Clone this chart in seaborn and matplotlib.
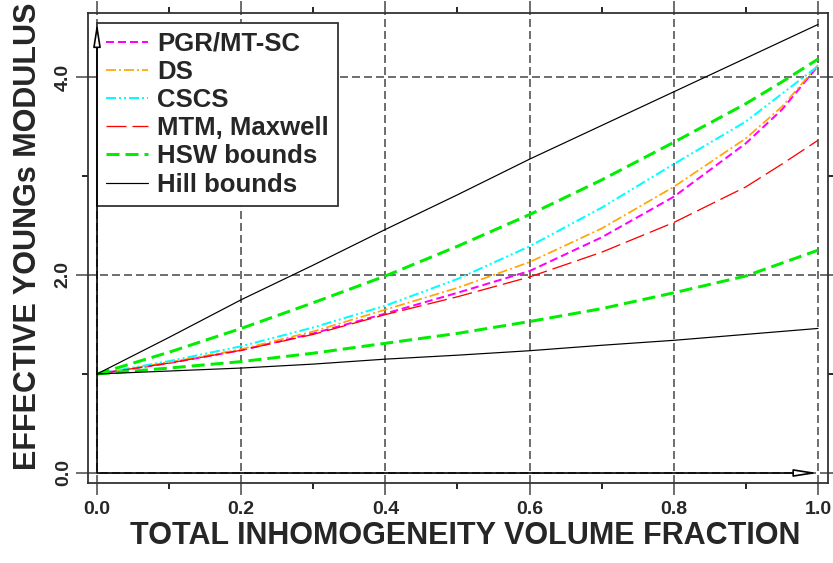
import matplotlib
matplotlib.use("Agg")
import matplotlib.pyplot as plt
import seaborn as sns
import numpy as np
import pandas as pd

# ---- data ----
frac = [0.0, 0.1, 0.2, 0.3, 0.4, 0.5, 0.6, 0.7, 0.8, 0.9, 0.95, 1.0]
pgr_mtsc = [1.0, 1.11, 1.24, 1.41, 1.61, 1.82, 2.04, 2.38, 2.79, 3.33, 3.67, 4.11]
ds = [1.0, 1.12, 1.25, 1.43, 1.65, 1.87, 2.13, 2.47, 2.89, 3.38, 3.70, 4.12]
cscs = [1.0, 1.13, 1.28, 1.47, 1.69, 1.96, 2.29, 2.68, 3.12, 3.55, 3.83, 4.11]
mtm = [1.0, 1.11, 1.24, 1.40, 1.60, 1.78, 1.98, 2.23, 2.53, 2.89, 3.12, 3.36]
hsw_upper = [1.0, 1.22, 1.46, 1.72, 1.99, 2.29, 2.61, 2.96, 3.34, 3.73, 3.95, 4.18]
hsw_lower = [1.0, 1.06, 1.125, 1.21, 1.31, 1.41, 1.53, 1.66, 1.82, 1.99, 2.12, 2.25]
hill_upper = [1.0, 1.37, 1.75, 2.10, 2.46, 2.81, 3.17, 3.51, 3.85, 4.19, 4.36, 4.53]
hill_lower = [1.0, 1.03, 1.06, 1.10, 1.15, 1.19, 1.235, 1.29, 1.34, 1.40, 1.43, 1.46]

x_ticks = [0.0, 0.2, 0.4, 0.6, 0.8, 1.0]
x_ticklabels = ["0.0", "0.2", "0.4", "0.6", "0.8", "1.0"]
y_ticks = [0.0, 2.0, 4.0]
y_ticklabels = ["0.0", "2.0", "4.0"]

xlabel = "TOTAL INHOMOGENEITY VOLUME FRACTION"
ylabel = "EFFECTIVE YOUNGs MODULUS"

sns.set_theme(style="white")
plt.rcParams['font.family'] = ['Liberation Sans', 'DejaVu Sans']
plt.rcParams['font.weight'] = 'bold'
plt.rcParams['lines.scale_dashes'] = False

fig = plt.figure(figsize=(8.33, 5.63), dpi=100)
ax = fig.add_axes([88/833, 1-483/563, 740/833, 470/563])

# px -> pt at 100 dpi
def p(v):
    return v * 0.72

series = [
    ("PGR/MT-SC", pgr_mtsc, "#ff00ff", p(2.0), (0, (p(8), p(4)))),
    ("DS", ds, "#ffa500", p(1.7), (0, (p(10), p(3), p(2), p(3)))),
    ("CSCS", cscs, "#00ffff", p(2.0), (0, (p(10), p(3), p(2), p(3), p(2), p(3)))),
    ("MTM, Maxwell", mtm, "#ff0000", p(1.3), (0, (p(20), p(6)))),
    ("HSW bounds", hsw_upper, "#00ee00", p(3.0), (0, (p(13), p(6)))),
    (None, hsw_lower, "#00ee00", p(3.0), (0, (p(13), p(6)))),
    ("Hill bounds", hill_upper, "black", p(1.2), "-"),
    (None, hill_lower, "black", p(1.2), "-"),
]

handles = []
labels = []
for name, vals, col, lw, ls in series:
    df = pd.DataFrame({"x": frac, "y": vals})
    n_before = len(ax.lines)
    sns.lineplot(data=df, x="x", y="y", ax=ax, color=col, linewidth=lw,
                 linestyle=ls, legend=False, zorder=3)
    line = ax.lines[n_before]
    if name is not None:
        handles.append(line)
        labels.append(name)

ax.set_xlim(-0.0125, 1.0139)
ax.set_ylim(-0.101, 4.646)

ax.set_xticks(x_ticks)
ax.set_xticklabels(x_ticklabels, fontsize=14, fontweight='bold')
ax.set_yticks(y_ticks)
ax.set_yticklabels(y_ticklabels, fontsize=14, fontweight='bold', rotation=90,
                   va='center')
ax.set_xticks(np.arange(0.1, 1.0, 0.2), minor=True)
ax.set_yticks([1.0, 3.0], minor=True)

ax.tick_params(which='major', direction='out', length=p(12), width=1.2,
               color='#555555', top=True, right=True, bottom=True, left=True)
ax.tick_params(which='minor', direction='out', length=p(6), width=1.2,
               color='black', top=True, right=True, bottom=True, left=True)
ax.tick_params(axis='x', which='major', pad=4)
ax.tick_params(axis='y', which='major', pad=3)

for s in ax.spines.values():
    s.set_visible(True)
    s.set_color('#333333')
    s.set_linewidth(1.3)

ax.grid(True, which='major', linestyle=(0, (p(8), p(4))), color='#555555',
        linewidth=1.2, zorder=1)
ax.set_axisbelow(True)

ax.set_xlabel(xlabel, fontsize=22, fontweight='bold')
ax.xaxis.set_label_coords((465-88)/740, -(536-483)/470)
ax.xaxis.label.set_va('center')
ax.set_ylabel(ylabel, fontsize=22, fontweight='bold')
ax.yaxis.set_label_coords(-(88-28)/740, (483-236)/470)
ax.yaxis.label.set_va('center')

leg = ax.legend(handles, labels, loc='upper left',
                bbox_to_anchor=((97-88)/740, 1-(23-13)/470),
                borderaxespad=0, prop={'weight': 'bold', 'size': 18.5},
                frameon=True, fancybox=False, framealpha=1, edgecolor='#333333',
                handlelength=1.65, handletextpad=0.35, labelspacing=0.16,
                borderpad=0.35)
for t in leg.get_texts():
    t.set_fontweight('bold')
leg.get_frame().set_linewidth(1.3)
leg.set_zorder(5)

# axis arrows (drawn above the legend)
for end in [(0.0, 4.55), (1.0, 0.0)]:
    ax.annotate("", xy=end, xytext=(0.0, 0.0),
                arrowprops=dict(arrowstyle="-|>,head_length=1.4,head_width=0.22",
                                fc="white", ec="black", lw=1.2, shrinkA=0,
                                shrinkB=0, mutation_scale=10), zorder=7)

fig.savefig("out.png", dpi=100)
